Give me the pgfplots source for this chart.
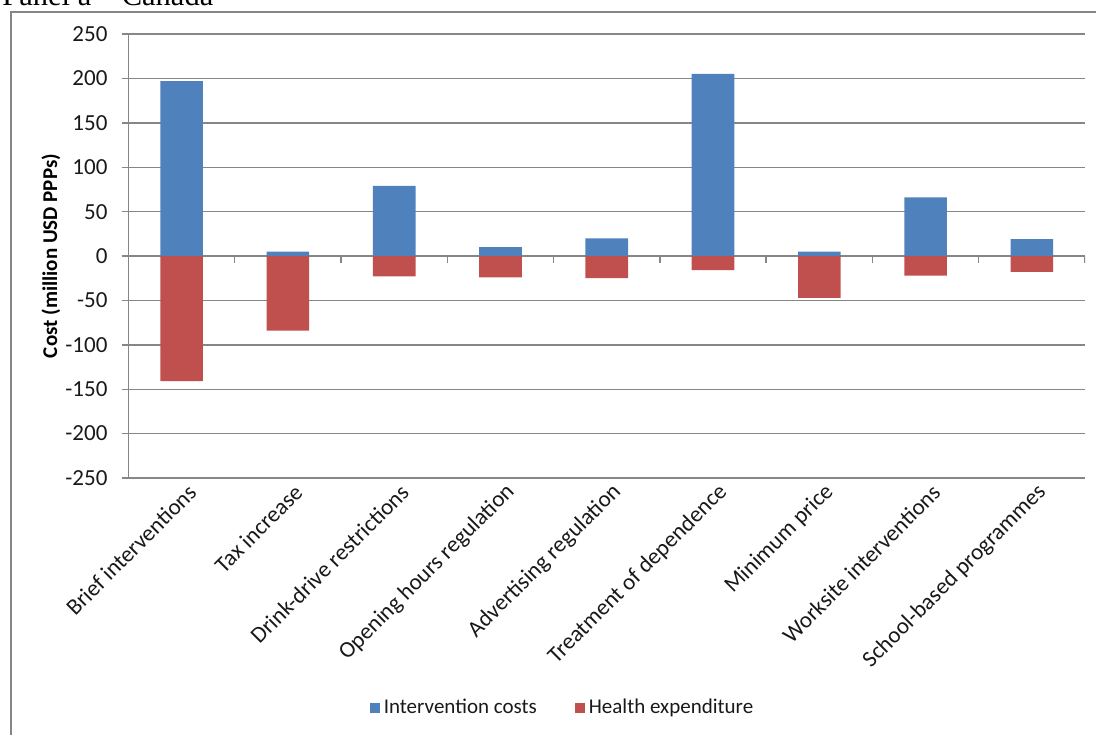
\documentclass[border=0pt]{standalone}
\usepackage{pgfplots}
\pgfplotsset{compat=1.18}
\usepackage{fontspec}
\setmainfont{Carlito}
\newfontfamily\titlefont{Liberation Serif}
\definecolor{iblue}{HTML}{4F81BD}
\definecolor{hred}{HTML}{C0504D}
\definecolor{gridgray}{HTML}{868686}
\begin{document}
\begin{tikzpicture}
\useasboundingbox (0,0) rectangle (548pt,-367pt);
\clip (0,0) rectangle (548pt,-367pt);
\draw[gridgray, line width=1pt] (5.25pt,-6pt) rectangle (560pt,-380pt);
\node[anchor=base west, inner sep=0pt, font=\titlefont\fontsize{15.25}{18}\selectfont] at (1pt,-2.5pt) {Panel a – Canada};
\begin{axis}[
  at={(64.25pt,-239pt)}, anchor=south west,
  scale only axis, width=478.25pt, height=222pt,
  xmin=-0.5, xmax=8.5, ymin=-250, ymax=250,
  axis x line*=bottom, axis y line*=left,
  axis line style={-, gridgray, line width=0.7pt},
  ytick={-250,-200,-150,-100,-50,0,50,100,150,200,250},
  yticklabels={-250,-200,-150,-100,-50,0,50,100,150,200,250},
  xtick={0,1,2,3,4,5,6,7,8},
  xticklabels={Brief interventions, Tax increase, Drink-drive restrictions, Opening hours regulation, Advertising regulation, Treatment of dependence, Minimum price, Worksite interventions, School-based programmes},
  ymajorgrids, grid style={gridgray, line width=0.7pt},
  tick align=outside, major tick length=3.5pt,
  xtick style={draw=none},
  ytick style={gridgray, line width=0.7pt},
  tick label style={font=\fontsize{11.5}{13.8}\selectfont, text=black!90},
  yticklabel style={anchor=east, xshift=-3.5pt},
  xticklabel style={rotate=45, anchor=east, xshift=6pt, yshift=-5pt},
  ylabel={\bfseries Cost (million USD PPPs)},
  ylabel style={at={(axis description cs:-0.081,0.5)}, anchor=center, font=\fontsize{10.5}{12.6}\selectfont},
  legend style={at={(axis description cs:0.4548,-0.518)}, anchor=center, draw=none, fill=none,
    legend columns=2, font=\fontsize{10.5}{12.6}\selectfont, text=black!90,
    /tikz/every even column/.append style={column sep=17pt}},
  legend image code/.code={\fill[#1,draw=none] (0pt,-2.5pt) rectangle (5pt,2.5pt);},
]
\addplot[ybar, bar width=21.3pt, bar shift=0pt, fill=iblue, draw=none]
  coordinates {(0,197) (1,5) (2,79) (3,10) (4,20) (5,205) (6,5) (7,66) (8,19)};
\addlegendentry{Intervention costs}
\addplot[ybar, bar width=21.3pt, bar shift=0pt, fill=hred, draw=none]
  coordinates {(0,-141) (1,-84) (2,-23) (3,-24) (4,-25) (5,-16) (6,-47) (7,-22) (8,-18)};
\addlegendentry{Health expenditure}
\pgfplotsinvokeforeach{0.5,1.5,2.5,3.5,4.5,5.5,6.5,7.5,8.5}{
  \draw[gridgray, line width=0.7pt] (axis cs:#1,0) -- ([yshift=-3.5pt]axis cs:#1,0);
}
\end{axis}
\end{tikzpicture}
\end{document}
